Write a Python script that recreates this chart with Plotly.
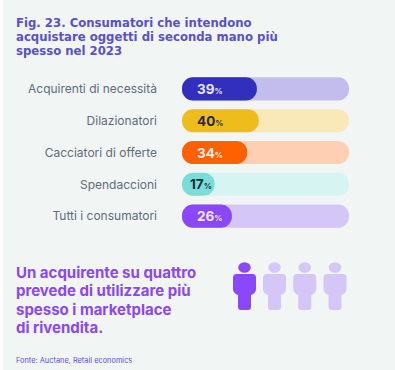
import plotly.graph_objects as go

W, H = 395, 370
categories = ["Acquirenti di necessità", "Dilazionatori", "Cacciatori di offerte", "Spendaccioni", "Tutti i consumatori"]
values = [39, 40, 34, 17, 26]
track_max = 87
fill_colors = ["#322fbf", "#eebd1d", "#ff6000", "#7bddd8", "#8a47fb"]
track_colors = ["#c2bdec", "#f9e9b8", "#ffcfb4", "#d6f4f1", "#d4c6f6"]
label_colors = ["#e8e6fa", "#1f2a3c", "#fff0e6", "#14303a", "#f0e8ff"]
label_x = [197, 197, 197, 190, 197]
title_lines = ["Fig. 23. Consumatori che intendono", "acquistare oggetti di seconda mano più", "spesso nel 2023"]
callout_lines = ["Un acquirente su quattro", "prevede di utilizzare più", "spesso i marketplace", "di rivendita."]
source = "Fonte: Auctane, Retail economics"
FONT = "Inter, sans-serif"
TITLE_FONT = "DejaVu Sans, sans-serif"

def px(x): return x / W
def py(y): return 1 - y / H

fig = go.Figure()
def pill(vals, colors):
    # an explicit base makes plotly round both ends of the bar
    fig.add_bar(y=categories, x=vals, base=[0] * len(vals), orientation="h",
                marker=dict(color=colors, cornerradius=11.5, line_width=0), width=0.725, hoverinfo="skip")
pill([track_max] * 5, track_colors)
pill(values, fill_colors)

ann = []
def text(x, y, s, size, color, family=FONT):
    ann.append(dict(xref="paper", yref="paper", x=px(x), y=py(y), text=s, showarrow=False, xanchor="left",
                    yanchor="middle", font=dict(family=family, size=size, color=color), align="left",
                    borderpad=0, borderwidth=0))

for i, l in enumerate(title_lines):
    text(16, 23.3 + i * 14, f"<b>{l}</b>", 11.7, "#5a50cc", TITLE_FONT)
for i, l in enumerate(callout_lines):
    text(16, 272.7 + i * 18.2, f"<b>{l}</b>", 15, "#8a47fb")
text(16, 360, source, 7.4, "#5a50cc")
row_y = [89, 120.7, 152.7, 184, 215.7]
for v, lx, c, y in zip(values, label_x, label_colors, row_y):
    text(lx, y, f"<b>{v}</b><b style='font-size:8px'>%</b>", 13.5, c)

shapes = [dict(type="rect", xref="paper", yref="paper", x0=px(3), x1=1, y0=0, y1=1, fillcolor="#f1f6f5", line_width=0, layer="below")]
icon_colors = ["#8a47fb", "#d4c6f6", "#d4c6f6", "#d4c6f6"]
def person(cx, color):
    def P(x, y): return f"{px(cx + x):.5f},{py(y):.5f}"
    d = ("M" + P(-8, 274) + " L" + P(8, 274) + " Q" + P(11.5, 274) + " " + P(11.5, 278)
         + " L" + P(11.5, 289) + " Q" + P(11.5, 293) + " " + P(6.5, 295)
         + " L" + P(6.5, 307) + " Q" + P(6.5, 310) + " " + P(3.5, 310) + " L" + P(-3.5, 310)
         + " Q" + P(-6.5, 310) + " " + P(-6.5, 307) + " L" + P(-6.5, 295)
         + " Q" + P(-11.5, 293) + " " + P(-11.5, 289) + " L" + P(-11.5, 278) + " Q" + P(-11.5, 274) + " " + P(-8, 274) + " Z")
    shapes.append(dict(type="path", xref="paper", yref="paper", path=d, fillcolor=color, line_width=0))
    shapes.append(dict(type="circle", xref="paper", yref="paper", x0=px(cx - 6.3), x1=px(cx + 6.3), y0=py(272.7), y1=py(262.3), fillcolor=color, line_width=0))
for cx, c in zip([244.5, 274.5, 304.8, 335], icon_colors):
    person(cx, c)

fig.update_layout(
    width=W, height=H, autosize=False, margin=dict(l=0, r=0, t=0, b=0), paper_bgcolor="white", plot_bgcolor="rgba(0,0,0,0)",
    barmode="overlay", showlegend=False, annotations=ann, shapes=shapes,
    xaxis=dict(domain=[px(182), px(349)], range=[0, track_max], visible=False, fixedrange=True),
    yaxis=dict(domain=[py(232), py(73)], range=[4.5, -0.5], type="category", categoryorder="array", categoryarray=categories,
               showgrid=False, zeroline=False, showline=False, ticks="", ticklabelstandoff=24, anchor="x",
               tickfont=dict(family=FONT, size=12, color="#5f6b7c"), fixedrange=True),
)
fig.write_html("out.html", config={"displayModeBar": False},
               post_script="document.body.style.margin='0';document.documentElement.style.overflow='hidden';")
